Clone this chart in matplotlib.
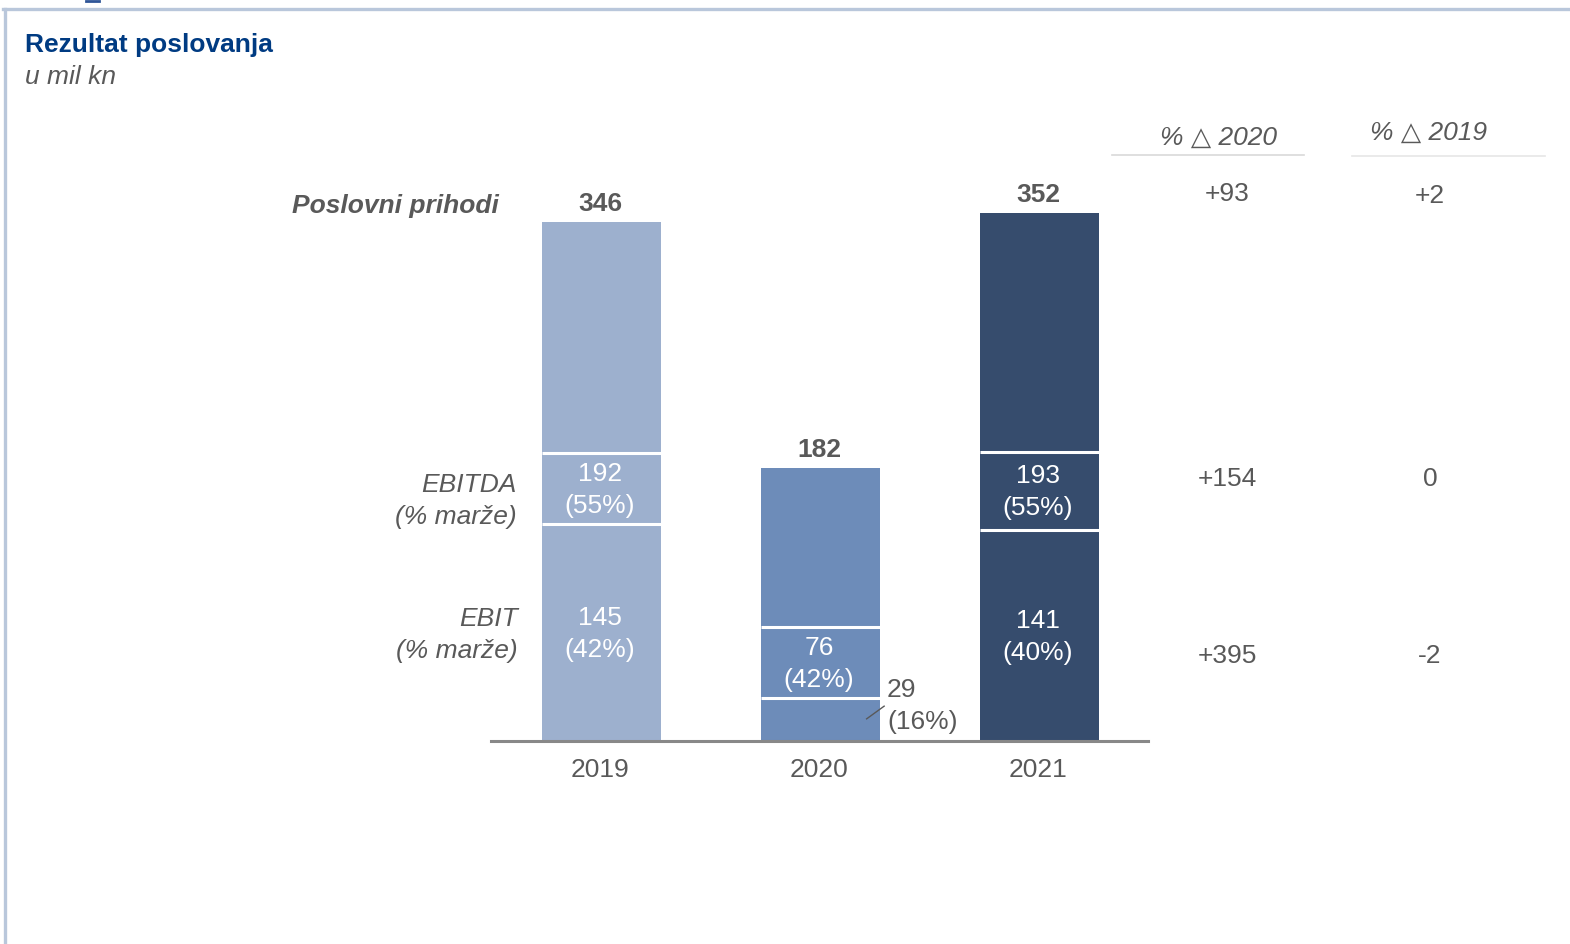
import numpy as np
import matplotlib
matplotlib.use('agg')
import matplotlib.pyplot as plt
from matplotlib.lines import Line2D

plt.rcParams['font.family'] = ['Liberation Sans', 'DejaVu Sans']

# ---------------- data ----------------
years = ['2019', '2020', '2021']
revenue = [346, 182, 352]
ebitda = [192, 76, 193]
ebitda_pct = [55, 42, 55]
ebit = [145, 29, 141]
ebit_pct = [42, 16, 40]
colors = ['#9DB0CE', '#6D8CB9', '#364C6D']

chg_2020 = ['+93', '+154', '+395']
chg_2019 = ['+2', '0', '-2']

GREY = '#595959'
FS = 19
LS = 1.42
W, H = 1570, 944

fig = plt.figure(figsize=(W / 100, H / 100), dpi=100)

# frame
fig.add_artist(Line2D([3 / W, 1], [1 - 9 / H, 1 - 9 / H], color='#B9C7DB', lw=2.4))
fig.add_artist(Line2D([5 / W, 5 / W], [0, 1 - 9 / H], color='#B9C7DB', lw=2.4))
fig.add_artist(Line2D([86 / W, 99 / W], [1 - 1 / H, 1 - 1 / H], color='#2F5597', lw=2))

fig.text(25 / W, 1 - 45 / H, 'Rezultat poslovanja', fontsize=FS, fontweight='bold',
         color='#003B82', va='center', ha='left')
fig.text(25 / W, 1 - 77 / H, 'u mil kn', fontsize=FS, style='italic',
         color=GREY, va='center', ha='left')

# bar axes: baseline at y=741px, 1.5 px per unit
ax = fig.add_axes([490.5 / W, (H - 741) / H, 657 / W, 600 / H])
x = np.arange(len(years))
bw = 0.543
ax.bar(x + 0.005, revenue, width=bw, color=colors, zorder=2)
for i in x:
    ax.hlines([ebitda[i], ebit[i]], i + 0.005 - bw / 2, i + 0.005 + bw / 2,
              color='white', lw=2.2, zorder=3)

for i in x:
    ax.text(i, revenue[i] + 12, str(revenue[i]), ha='center', va='center',
            fontsize=FS, fontweight='bold', color=GREY)
    ax.text(i, (ebitda[i] + ebit[i]) / 2 - 1, f'{ebitda[i]}\n({ebitda_pct[i]}%)',
            ha='center', va='center', fontsize=FS, color='white', linespacing=LS, zorder=4)
    if ebit[i] > 60:
        ax.text(i, ebit[i] / 2 - 1, f'{ebit[i]}\n({ebit_pct[i]}%)',
                ha='center', va='center', fontsize=FS, color='white', linespacing=LS, zorder=4)
    else:
        ax.plot([i + 0.215, i + 0.30], [ebit[i] / 2, ebit[i] / 2 + 9],
                color=GREY, lw=1, zorder=4, solid_capstyle='butt')
        ax.text(i + 0.31, ebit[i] / 2 + 9, f'{ebit[i]}\n({ebit_pct[i]}%)',
                ha='left', va='center', fontsize=FS, color=GREY, linespacing=LS, zorder=4)

ax.set_xlim(-0.5, 2.5)
ax.set_ylim(0, 400)
ax.set_xticks(x)
ax.set_xticklabels(years, fontsize=FS, color=GREY)
ax.tick_params(axis='x', length=0, pad=12)
ax.set_yticks([])
for s in ['top', 'right', 'left']:
    ax.spines[s].set_visible(False)
ax.spines['bottom'].set_color('#888888')
ax.spines['bottom'].set_linewidth(2.2)
ax.spines['bottom'].set_zorder(5)
ax.set_facecolor('none')

# row labels
fig.text(499 / W, 1 - 206 / H, 'Poslovni prihodi', fontsize=FS, fontweight='bold',
         style='italic', color=GREY, ha='right', va='center')
fig.text(517 / W, 1 - 501 / H, 'EBITDA\n(% marže)', fontsize=FS, style='italic',
         color=GREY, ha='right', va='center', linespacing=LS)
fig.text(518 / W, 1 - 635 / H, 'EBIT\n(% marže)', fontsize=FS, style='italic',
         color=GREY, ha='right', va='center', linespacing=LS)

# change table
fig.text(1218 / W, 1 - 138 / H, '% △ 2020', fontsize=FS, style='italic', color=GREY,
         ha='center', va='center')
fig.text(1428 / W, 1 - 133 / H, '% △ 2019', fontsize=FS, style='italic', color=GREY,
         ha='center', va='center')
fig.add_artist(Line2D([1112 / W, 1304 / W], [1 - 155 / H] * 2, color='#D9D9D9', lw=1.2))
fig.add_artist(Line2D([1352 / W, 1545 / W], [1 - 156 / H] * 2, color='#E6E6E6', lw=1.2))
row_y = [[194, 479, 656], [196, 479, 656]]
for col_x, vals, ys in [(1227, chg_2020, row_y[0]), (1430, chg_2019, row_y[1])]:
    for v, yy in zip(vals, ys):
        fig.text(col_x / W, 1 - yy / H, v, fontsize=FS, color=GREY, ha='center', va='center')

plt.savefig('out.png', dpi=100)
plt.close('all')
